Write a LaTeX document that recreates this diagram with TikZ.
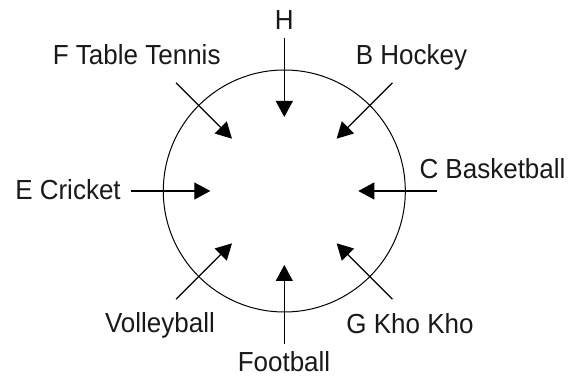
\documentclass[tikz,border=0pt]{standalone}
\usepackage{fontspec}
\setmainfont{Liberation Sans}
\usetikzlibrary{arrows.meta,calc}
\begin{document}
\begin{tikzpicture}[x=1pt,y=1pt,
  lbl/.style={anchor=base,inner sep=0pt,font=\fontsize{26}{30}\selectfont,text=black!90,yscale=1.06},
  inarrow/.style={line width=1.2pt,-{Triangle[length=16pt,width=17pt]}},
  ring/.style={draw,circle,line width=1pt,minimum size=242pt,inner sep=0pt}]
\useasboundingbox (0,0) rectangle (571,377);
\coordinate (c) at (284.3,186);
\node[ring] (circ) at (c) {};
% labels
\node[lbl] (lH) at (284.3,347.7) {H};
\node[lbl] (lF) at (136.7,312) {F Table Tennis};
\node[lbl] (lB) at (411.5,312.7) {B Hockey};
\node[lbl] (lE) at (68,177) {E Cricket};
\node[lbl] (lC) at (492.5,198.7) {C Basketball};
\node[lbl] (lV) at (160,44.7) {Volleyball};
\node[lbl] (lG) at (410,43.7) {G Kho Kho};
\node[lbl] (lFo) at (284,5.5) {Football};
% arrow ends
\foreach \n/\a in {H/90,B/45,C/0,G/-45,Fo/-90,V/-135,E/180,F/135}{
  \coordinate (s\n) at ($(c)+(\a:153)$);
  \coordinate (t\n) at ($(c)+(\a:74)$);
}
\foreach \n in {H,B,C,G,Fo,V,E,F}{
  \draw[inarrow] (s\n) -- (t\n);
}
\end{tikzpicture}
\end{document}
